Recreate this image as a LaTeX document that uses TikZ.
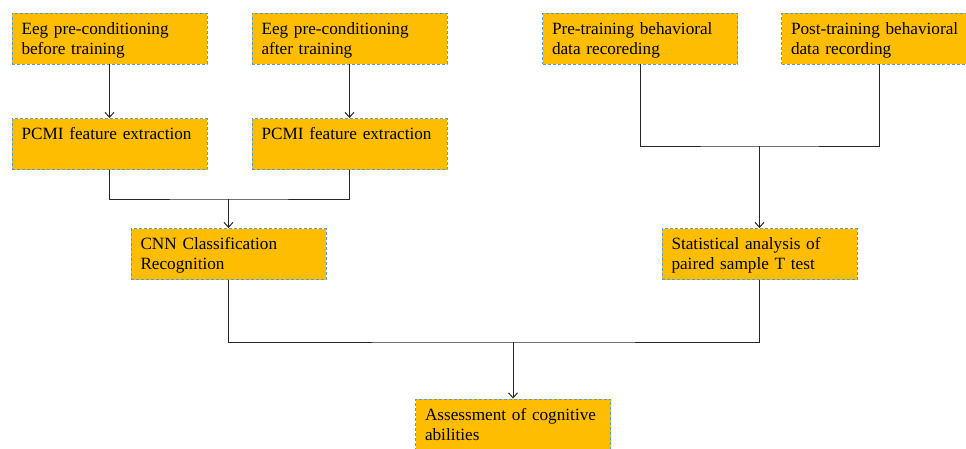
\documentclass[tikz,border=0pt]{standalone}
\usepackage{fontspec}
\setmainfont{Liberation Serif}
\usetikzlibrary{arrows.meta}
\definecolor{boxorange}{HTML}{FFBD00}
\definecolor{boxblue}{HTML}{5B9BD5}
\tikzset{
  stagebox/.style={draw=boxblue, line width=0.9pt, dash pattern=on 3pt off 2pt,
    fill=boxorange, text width=176pt, inner xsep=9.5pt, inner ysep=5.5pt,
    text height=15.5pt, text depth=24.5pt, align=left,
    font=\fontsize{17.2}{20}\selectfont},
  link/.style={black!85, line width=1pt},
  arrowlink/.style={link, -{Straight Barb[length=5pt,width=9pt]}}
}
\begin{document}
\begin{tikzpicture}[x=1pt,y=-1pt]
  \useasboundingbox (0,0) rectangle (966,448);
  \clip (0,0) rectangle (966,448);
  % EEG branch
  \node[stagebox] (eegpre) at (109.5,38.5) {Eeg pre-conditioning\\before training};
  \node[stagebox] (eegpost) at (349.5,38.5) {Eeg pre-conditioning\\after training};
  \node[stagebox] (pcmipre) at (109.5,144) {PCMI feature extraction};
  \node[stagebox] (pcmipost) at (349.5,144) {PCMI feature extraction};
  \node[stagebox] (cnn) at (228.5,254) {CNN Classification\\Recognition};
  % Behavioral branch
  \node[stagebox] (behpre) at (640,38.5) {Pre-training behavioral\\data recoreding};
  \node[stagebox] (behpost) at (879,38.5) {Post-training behavioral\\data recording};
  \node[stagebox] (stat) at (759.5,254) {Statistical analysis of\\paired sample T test};
  % Result
  \node[stagebox] (assess) at (513,424.5) {Assessment of cognitive\\abilities};
  % Junctions
  \coordinate (jpcmi) at (228.5,199);
  \coordinate (jbeh) at (759.5,146);
  \coordinate (jfin) at (513,342);
  % Connectors
  \draw[arrowlink] (eegpre) -- (pcmipre);
  \draw[arrowlink] (eegpost) -- (pcmipost);
  \draw[link] (pcmipre.south) |- (jpcmi) -| (pcmipost.south);
  \draw[arrowlink] (jpcmi) -- (cnn);
  \draw[link] (behpre.south) |- (jbeh) -| (behpost.south);
  \draw[arrowlink] (jbeh) -- (stat);
  \draw[link] (cnn.south) |- (jfin) -| (stat.south);
  \draw[arrowlink] (jfin) -- (assess);
\end{tikzpicture}
\end{document}
